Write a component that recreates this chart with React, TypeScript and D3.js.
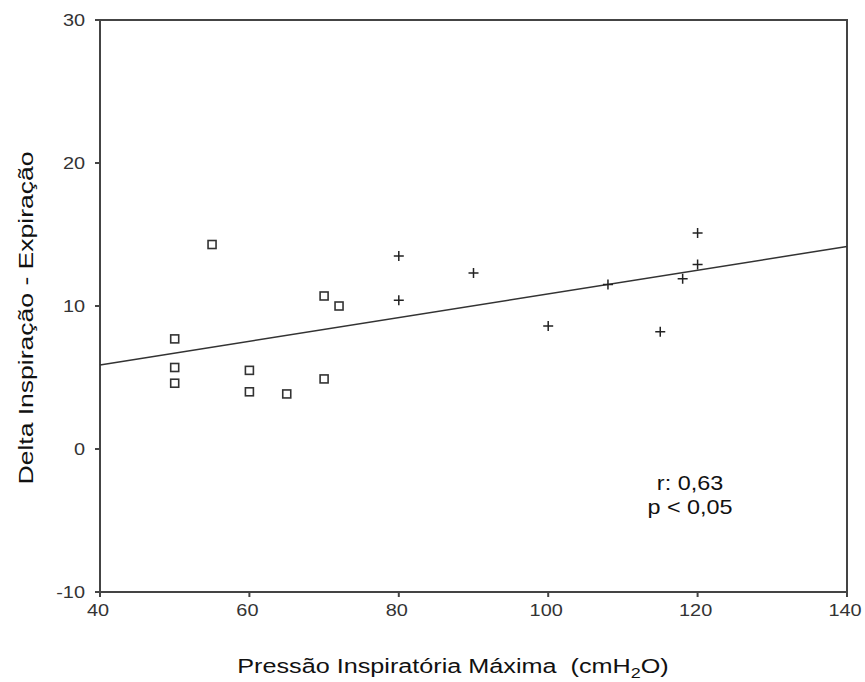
import React from "react";
import * as d3 from "d3";

// Group 1 (squares)
const groupAX = [55, 70, 72, 50, 50, 50, 60, 60, 65, 70];
const groupAY = [14.3, 10.7, 10.0, 7.7, 5.7, 4.6, 5.5, 4.0, 3.85, 4.9];
// Group 2 (crosses)
const groupBX = [80, 80, 90, 100, 108, 115, 120, 120, 118];
const groupBY = [13.5, 10.4, 12.3, 8.6, 11.5, 8.2, 15.1, 12.9, 11.9];

const xTicks = [40, 60, 80, 100, 120, 140];
const yTicks = [-10, 0, 10, 20, 30];
const statLines = ["r: 0,63", "p < 0,05"];

const W = 865;
const H = 682;
const left = 100;
const right = 847;
const top = 20;
const bottom = 592;

export default function App() {
  const x = d3.scaleLinear().domain([40, 140]).range([left, right]);
  const y = d3.scaleLinear().domain([-10, 30]).range([bottom, top]);

  const allX = [...groupAX, ...groupBX];
  const allY = [...groupAY, ...groupBY];
  const mx = d3.mean(allX)!;
  const my = d3.mean(allY)!;
  const sxy = d3.sum(allX, (v, i) => (v - mx) * (allY[i] - my));
  const sxx = d3.sum(allX, (v) => (v - mx) * (v - mx));
  const slope = sxy / sxx;
  const icpt = my - slope * mx;
  const fit = d3
    .line<number>()
    .x((v) => x(v))
    .y((v) => y(icpt + slope * v));

  const font = "'Liberation Sans', Arial, sans-serif";
  const axisColor = "#444";
  const sx = 1.17; // wide lettering

  return (
    <svg
      width={W}
      height={H}
      style={{ position: "absolute", left: 0, top: 0, background: "#fff" }}
      fontFamily={font}
    >
      <rect x={0} y={0} width={W} height={H} fill="#fff" />
      {/* frame */}
      <rect
        x={left}
        y={top}
        width={right - left}
        height={bottom - top}
        fill="none"
        stroke={axisColor}
        strokeWidth={2}
      />
      {/* y ticks */}
      {yTicks.map((t) => (
        <g key={"y" + t}>
          <line x1={left - 5} x2={left} y1={y(t)} y2={y(t)} stroke={axisColor} strokeWidth={2} />
          <text
            transform={`translate(${left - 15},${y(t) + 6}) scale(${sx},1)`}
            textAnchor="end"
            fontSize={17}
            fill="#333"
          >
            {t}
          </text>
        </g>
      ))}
      {/* x ticks */}
      {xTicks.map((t) => (
        <g key={"x" + t}>
          <line x1={x(t)} x2={x(t)} y1={bottom} y2={bottom + 5} stroke={axisColor} strokeWidth={2} />
          <text
            transform={`translate(${x(t) - 2},${bottom + 24}) scale(${sx},1)`}
            textAnchor="middle"
            fontSize={17}
            fill="#333"
          >
            {t}
          </text>
        </g>
      ))}
      {/* regression line */}
      <path d={fit([40, 140]) || ""} fill="none" stroke="#333" strokeWidth={1.5} />
      {/* squares */}
      {groupAX.map((v, i) => (
        <rect
          key={"a" + i}
          x={x(v) - 4}
          y={y(groupAY[i]) - 4}
          width={8}
          height={8}
          fill="none"
          stroke="#333"
          strokeWidth={1.6}
        />
      ))}
      {/* crosses */}
      {groupBX.map((v, i) => (
        <path
          key={"b" + i}
          d={`M${x(v) - 5},${y(groupBY[i])}h10M${x(v)},${y(groupBY[i]) - 5}v10`}
          stroke="#222"
          strokeWidth={1.5}
        />
      ))}
      {/* statistics */}
      {statLines.map((s, i) => (
        <text
          key={s}
          transform={`translate(690,${490 + i * 24}) scale(${sx},1)`}
          textAnchor="middle"
          fontSize={20}
          fill="#111"
        >
          {s}
        </text>
      ))}
      {/* axis titles */}
      <text
        transform={`translate(453,673) scale(1.2,1)`}
        textAnchor="middle"
        fontSize={21}
        fill="#111"
      >
        Pressão Inspiratória Máxima{"\u00a0\u00a0"}(cmH
        <tspan fontSize={15} dy={5}>2</tspan>
        <tspan dy={-5}>O)</tspan>
      </text>
      <text
        transform={`translate(33, 318) rotate(-90)`}
        textAnchor="middle"
        fontSize={21}
        textLength={333}
        lengthAdjust="spacingAndGlyphs"
        fill="#111"
      >
        Delta Inspiração - Expiração
      </text>
    </svg>
  );
}
